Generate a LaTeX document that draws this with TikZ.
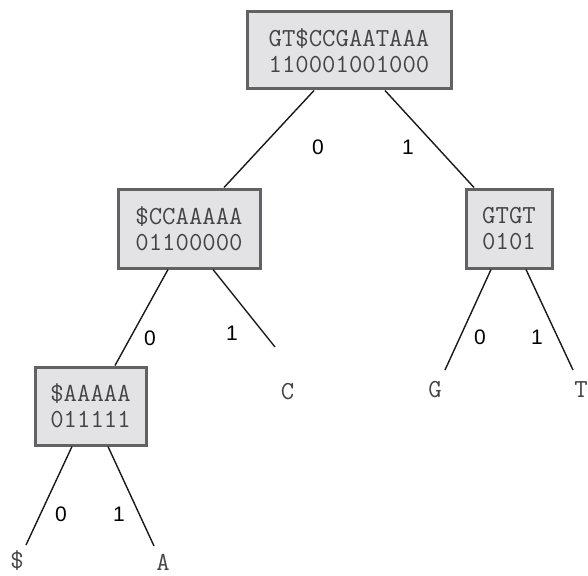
\documentclass[tikz,border=0pt]{standalone}
\usepackage{fontspec}
\setsansfont{Liberation Sans}
\definecolor{boxborder}{HTML}{626262}
\definecolor{boxfill}{HTML}{E3E3E5}
\definecolor{txt}{HTML}{444444}
\begin{document}
\begin{tikzpicture}[x=1pt,y=-1pt,
  wbox/.style={draw=boxborder, fill=boxfill, line width=3pt, align=center,
    font=\fontsize{26}{26}\selectfont\ttfamily, text=txt, inner xsep=0pt, inner ysep=0pt},
  leaf/.style={font=\fontsize{26}{26}\selectfont\ttfamily, text=txt, inner sep=0pt},
  elabel/.style={font=\fontsize{21}{22}\selectfont\sffamily, text=black, inner sep=0pt},
  edge/.style={draw=black!90, line width=1.4pt}]
\useasboundingbox (0,0) rectangle (588,575);
\node[wbox, minimum width=204pt, minimum height=77pt] (root) at (349,50.5) {GT\$CCGAATAAA\\110001001000};
\node[wbox, minimum width=142pt, minimum height=79pt] (L) at (189,228.5) {\$CCAAAAA\\01100000};
\node[wbox, minimum width=86pt, minimum height=79pt] (R) at (509,228.5) {GTGT\\0101};
\node[wbox, minimum width=111pt, minimum height=78pt] (LL) at (90.5,406) {\$AAAAA\\011111};
\node[leaf] (C) at (287.5,392) {C};
\node[leaf] (G) at (435,390) {G};
\node[leaf] (T) at (581,390) {T};
\node[leaf] (D) at (17,561) {\$};
\node[leaf] (A) at (163,562) {A};
\coordinate (cC) at (275,347);
\coordinate (cG) at (445,370);
\coordinate (cT) at (573,370);
\coordinate (cD) at (26,545);
\coordinate (cA) at (154,546);
\draw[edge] ([xshift=-35pt]root.south) -- ([xshift=35pt]L.north);
\draw[edge] ([xshift=36pt]root.south) -- ([xshift=-35pt]R.north);
\draw[edge] ([xshift=-21pt]L.south) -- ([xshift=24.5pt]LL.north);
\draw[edge] ([xshift=24pt]L.south) -- (cC);
\draw[edge] ([xshift=-18pt]R.south) -- (cG);
\draw[edge] ([xshift=17pt]R.south) -- (cT);
\draw[edge] ([xshift=-18.5pt]LL.south) -- (cD);
\draw[edge] ([xshift=17.5pt]LL.south) -- (cA);
\node[elabel] (e1) at (318,147) {0};
\node[elabel] (e2) at (408,147) {1};
\node[elabel] (e3) at (150,338) {0};
\node[elabel] (e4) at (232,333) {1};
\node[elabel] (e5) at (480,337) {0};
\node[elabel] (e6) at (537,337) {1};
\node[elabel] (e7) at (61,514) {0};
\node[elabel] (e8) at (119,514) {1};
\end{tikzpicture}
\end{document}
